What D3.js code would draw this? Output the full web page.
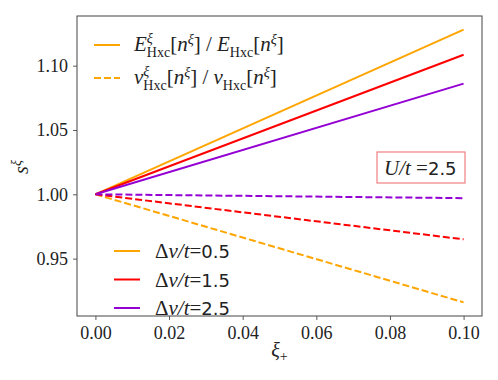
<!DOCTYPE html>
<html>
<head>
<meta charset="utf-8">
<script src="https://cdn.jsdelivr.net/npm/d3@7"></script>
<style>
  body { margin: 0; background: #fff; }
</style>
</head>
<body>
<svg width="498" height="380"></svg>
<script>
// data: straight lines from xi=0 to xi=0.1
const xiValues = [0.0, 0.1]
const deltaV = ['0.5', '1.5', '2.5']
const colors = ['orange', 'red', '#9400d3']
const energyRatio = [[1.0, 1.128], [1.0, 1.1085], [1.0, 1.086]]
const potentialRatio = [[1.0, 0.916], [1.0, 0.965], [1.0, 0.997]]
const xTicks = [0.00, 0.02, 0.04, 0.06, 0.08, 0.10]
const yTicks = [0.95, 1.00, 1.05, 1.10]

const serif = "'Liberation Serif', serif"
const sans = "'DejaVu Sans', sans-serif"

const svg = d3.select('svg')
const margin = { top: 16, right: 16, bottom: 64, left: 77 }
const width = 498 - margin.left - margin.right
const height = 380 - margin.top - margin.bottom

const x = d3.scaleLinear().domain([-0.005, 0.105]).range([0, width])
const y = d3.scaleLinear().domain([0.9054, 1.1386]).range([height, 0])

const g = svg.append('g').attr('transform', `translate(${margin.left},${margin.top})`)

const line = d3.line().x(d => x(d[0])).y(d => y(d[1]))

energyRatio.forEach((vals, i) => {
  g.append('path')
    .datum(xiValues.map((xi, j) => [xi, vals[j]]))
    .attr('d', line).attr('fill', 'none')
    .attr('stroke', colors[i]).attr('stroke-width', 2)
})
potentialRatio.forEach((vals, i) => {
  g.append('path')
    .datum(xiValues.map((xi, j) => [xi, vals[j]]))
    .attr('d', line).attr('fill', 'none')
    .attr('stroke', colors[i]).attr('stroke-width', 2)
    .attr('stroke-dasharray', '7,3')
})

// axes
g.append('g').attr('transform', `translate(0,${height})`)
  .call(d3.axisBottom(x).tickValues(xTicks).tickFormat(d3.format('.2f')).tickSize(4).tickPadding(6))
  .call(a => a.select('.domain').remove())
  .attr('font-family', serif).attr('font-size', 18)
g.append('g')
  .call(d3.axisLeft(y).tickValues(yTicks).tickFormat(d3.format('.2f')).tickSize(4).tickPadding(5))
  .call(a => a.select('.domain').remove())
  .attr('font-family', serif).attr('font-size', 18)
g.selectAll('.tick line').attr('stroke', '#333').attr('stroke-width', 0.8)
g.selectAll('.tick text').attr('fill', '#222')

g.append('rect').attr('width', width).attr('height', height)
  .attr('fill', 'none').attr('stroke', '#444').attr('stroke-width', 1)

// axis labels
svg.append('text').attr('x', margin.left + x(0.05)).attr('y', 357)
  .attr('text-anchor', 'middle').attr('font-family', serif).attr('font-size', 20).attr('fill', '#222')
  .call(t => {
    t.append('tspan').attr('font-style', 'italic').text('ξ')
    t.append('tspan').attr('font-size', 14).attr('dy', 4).text('+')
  })
svg.append('text').attr('transform', 'translate(28,167) rotate(-90)')
  .attr('text-anchor', 'middle').attr('font-family', serif).attr('font-size', 20).attr('fill', '#222')
  .call(t => {
    t.append('tspan').attr('font-style', 'italic').text('s')
    t.append('tspan').attr('font-style', 'italic').attr('font-size', 14).attr('dy', -7).text('ξ')
  })

// top legend
function mathLabel(t, sym, sub) {
  t.append('tspan').attr('font-style', 'italic').text(sym)
  t.append('tspan').attr('font-style', 'italic').attr('font-size', 14).attr('dy', -8).text('ξ')
  t.append('tspan').attr('font-size', 14).attr('dx', -6).attr('dy', 14).text(sub)
  t.append('tspan').attr('dy', -6).text('[')
  t.append('tspan').attr('font-style', 'italic').text('n')
  t.append('tspan').attr('font-style', 'italic').attr('font-size', 14).attr('dy', -7).text('ξ')
  t.append('tspan').attr('dy', 7).text('] / ')
  t.append('tspan').attr('font-style', 'italic').text(sym)
  t.append('tspan').attr('font-size', 14).attr('dy', 6).text(sub)
  t.append('tspan').attr('dy', -6).text('[')
  t.append('tspan').attr('font-style', 'italic').text('n')
  t.append('tspan').attr('font-style', 'italic').attr('font-size', 14).attr('dy', -7).text('ξ')
  t.append('tspan').attr('dy', 7).text(']')
}
const topLegend = [
  { sym: 'E', dash: null, y: 45 },
  { sym: 'v', dash: '7,3', y: 78 }
]
topLegend.forEach(d => {
  svg.append('line').attr('x1', 94).attr('x2', 120).attr('y1', d.y).attr('y2', d.y)
    .attr('stroke', colors[0]).attr('stroke-width', 2).attr('stroke-dasharray', d.dash)
  svg.append('text').attr('x', 134).attr('y', d.y + 6)
    .attr('font-family', serif).attr('font-size', 21).attr('fill', '#222')
    .call(t => mathLabel(t, d.sym, 'Hxc'))
})

// bottom legend
deltaV.forEach((v, i) => {
  const ly = 251 + i * 28.5
  svg.append('line').attr('x1', 114).attr('x2', 140).attr('y1', ly).attr('y2', ly)
    .attr('stroke', colors[i]).attr('stroke-width', 2)
  svg.append('text').attr('x', 155).attr('y', ly + 7).attr('font-size', 21).attr('fill', '#222')
    .call(t => {
      t.append('tspan').attr('font-family', serif).text('Δ')
      t.append('tspan').attr('font-family', serif).attr('font-style', 'italic').text('v/t')
      t.append('tspan').attr('font-family', serif).text('=')
      t.append('tspan').attr('font-family', sans).attr('font-size', 18).text(v)
    })
})

// U/t box
svg.append('rect').attr('x', 377).attr('y', 152).attr('width', 88).attr('height', 31)
  .attr('fill', '#fff').attr('stroke', '#f08080').attr('stroke-width', 1.2)
svg.append('text').attr('x', 384).attr('y', 175).attr('font-size', 21).attr('fill', '#222')
  .call(t => {
    t.append('tspan').attr('font-family', serif).attr('font-style', 'italic').text('U/t')
    t.append('tspan').attr('font-family', serif).text(' =')
    t.append('tspan').attr('font-family', sans).attr('font-size', 18).text('2.5')
  })
</script>
</body>
</html>
